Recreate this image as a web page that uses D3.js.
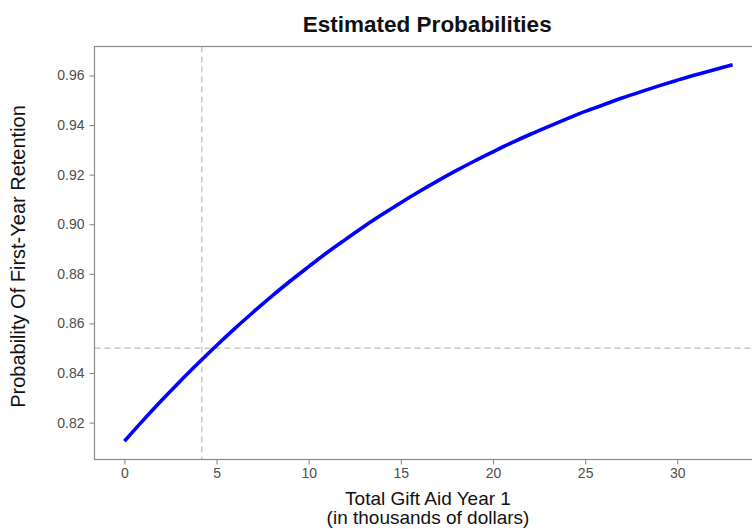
<!DOCTYPE html>
<html>
<head>
<meta charset="utf-8">
<script src="https://cdn.jsdelivr.net/npm/d3@7"></script>
<style>
  html, body { margin: 0; padding: 0; background: #fff; }
  svg { display: block; font-family: "Liberation Sans", Arial, sans-serif; }
</style>
</head>
<body>
<svg id="chart" width="752" height="529"></svg>
<script>
// Gift aid (thousands of dollars) and estimated retention probability
const giftAid = [0, 1, 2, 3, 4, 5, 6, 7, 8, 9, 10, 11, 12, 13, 14, 15, 16,
  17, 18, 19, 20, 21, 22, 23, 24, 25, 26, 27, 28, 29, 30, 31, 32, 33];
const retentionProb = [0.8125, 0.8208, 0.8288, 0.8365, 0.8439, 0.8511, 0.8580,
  0.8646, 0.8710, 0.8771, 0.8829, 0.8886, 0.8939, 0.8991, 0.9040, 0.9087,
  0.9132, 0.9175, 0.9216, 0.9255, 0.9292, 0.9328, 0.9362, 0.9394, 0.9425,
  0.9455, 0.9482, 0.9509, 0.9534, 0.9558, 0.9581, 0.9603, 0.9623, 0.9643];

// Reference lines
const refProb = 0.85;
const refAid = 4.2;

// Axis ticks
const xTicks = [0, 5, 10, 15, 20, 25, 30];
const yTicks = [0.82, 0.84, 0.86, 0.88, 0.90, 0.92, 0.94, 0.96];

const titleText = "Estimated Probabilities";
const xTitleLines = ["Total Gift Aid Year 1", "(in thousands of dollars)"];
const yTitleText = "Probability Of First-Year Retention";

const svg = d3.select("#chart");
const panel = { left: 94.5, top: 46.5, right: 763, bottom: 459.5 };

// 5% expansion around the data range
const xExtent = d3.extent(giftAid);
const yExtent = d3.extent(retentionProb);
const xPad = (xExtent[1] - xExtent[0]) * 0.05;
const yPad = (yExtent[1] - yExtent[0]) * 0.05;

const x = d3.scaleLinear()
  .domain([xExtent[0] - xPad, xExtent[1] + xPad])
  .range([94, 763]);
const y = d3.scaleLinear()
  .domain([yExtent[0] - yPad, yExtent[1] + yPad])
  .range([460, 46]);

const data = giftAid.map((g, i) => ({ g, p: retentionProb[i] }));

// Dashed reference lines
const refColor = "#bdbdbd";
svg.append("line")
  .attr("x1", panel.left).attr("x2", panel.right)
  .attr("y1", y(refProb)).attr("y2", y(refProb))
  .attr("stroke", refColor).attr("stroke-width", 1.2)
  .attr("stroke-dasharray", "6,4");
svg.append("line")
  .attr("x1", x(refAid)).attr("x2", x(refAid))
  .attr("y1", panel.top).attr("y2", panel.bottom)
  .attr("stroke", refColor).attr("stroke-width", 1.2)
  .attr("stroke-dasharray", "6,4");

// Probability curve
const line = d3.line()
  .x(d => x(d.g))
  .y(d => y(d.p))
  .curve(d3.curveMonotoneX);
svg.append("path")
  .datum(data)
  .attr("d", line)
  .attr("fill", "none")
  .attr("stroke", "#0000ff")
  .attr("stroke-width", 3.6)
  .attr("stroke-linecap", "butt");

// Panel border
svg.append("rect")
  .attr("x", panel.left).attr("y", panel.top)
  .attr("width", panel.right - panel.left)
  .attr("height", panel.bottom - panel.top)
  .attr("fill", "none")
  .attr("stroke", "#8a8a8a")
  .attr("stroke-width", 1.2);

// Axes
const xAxis = d3.axisBottom(x).tickValues(xTicks).tickSizeInner(5).tickSizeOuter(0).tickPadding(4)
  .tickFormat(d3.format("d"));
const yAxis = d3.axisLeft(y).tickValues(yTicks).tickSizeInner(5).tickSizeOuter(0).tickPadding(5)
  .tickFormat(d3.format(".2f"));

const gx = svg.append("g").attr("transform", `translate(0,${panel.bottom})`).call(xAxis);
const gy = svg.append("g").attr("transform", `translate(${panel.left},0)`).call(yAxis);

[gx, gy].forEach(g => {
  g.select(".domain").remove();
  g.selectAll(".tick line").attr("stroke", "#8a8a8a").attr("stroke-width", 1.1);
  g.selectAll(".tick text")
    .attr("fill", "#4d4d4d")
    .style("font-family", '"Liberation Sans", Arial, sans-serif')
    .style("font-size", "14px");
});

// Title
svg.append("text")
  .attr("x", (panel.left + panel.right) / 2 - 1.5)
  .attr("y", 31.5)
  .attr("text-anchor", "middle")
  .style("font-size", "22.5px")
  .style("font-weight", "bold")
  .attr("fill", "#111")
  .text(titleText);

// X axis title (two lines)
const xt = svg.append("text")
  .attr("text-anchor", "middle")
  .style("font-size", "19px")
  .attr("fill", "#111");
xTitleLines.forEach((t, i) => {
  xt.append("tspan")
    .attr("x", 428)
    .attr("y", 505 + i * 18.5)
    .text(t);
});

// Y axis title
svg.append("text")
  .attr("transform", "translate(24.5,256.5) rotate(-90)")
  .attr("text-anchor", "middle")
  .style("font-size", "20px")
  .attr("fill", "#111")
  .text(yTitleText);
</script>
</body>
</html>
